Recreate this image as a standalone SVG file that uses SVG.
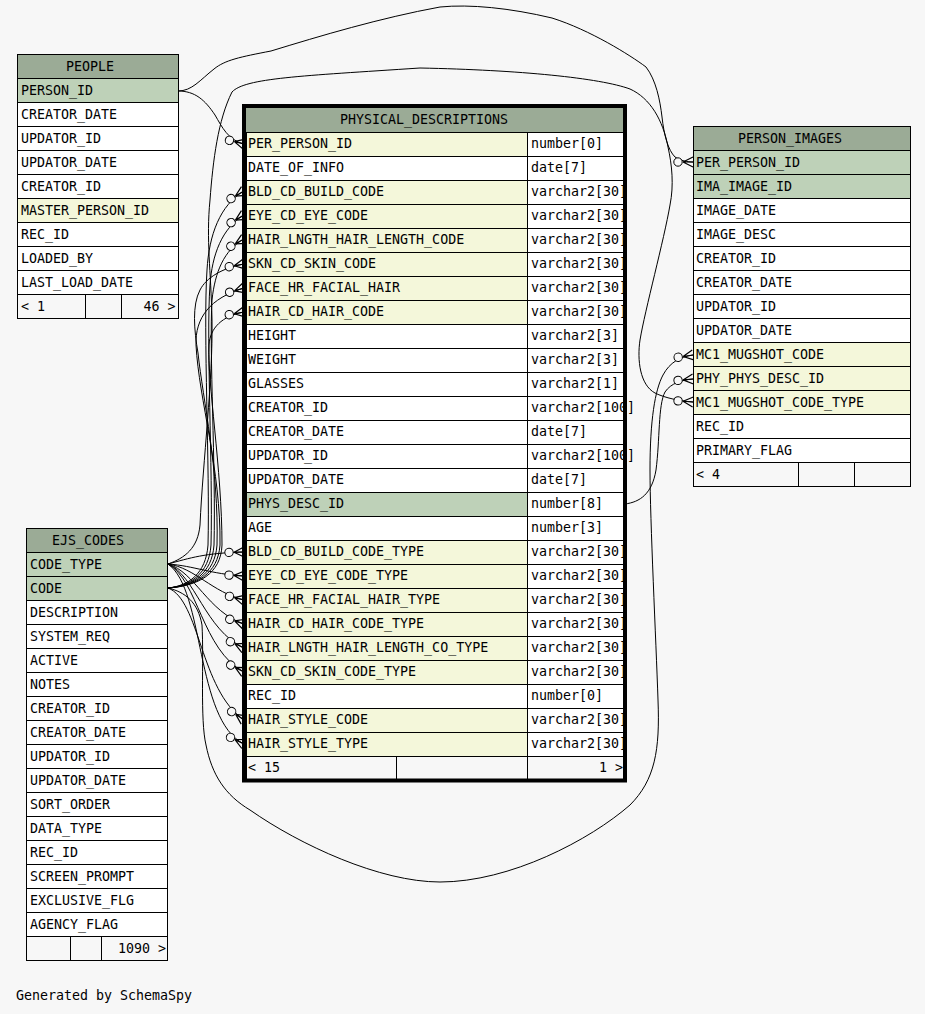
<svg xmlns="http://www.w3.org/2000/svg" width="925" height="1014" viewBox="0 0 925 1014">
<defs>
<style>
.bg{fill:#f7f7f7}
.c{stroke:#000;stroke-width:1}
.hd{fill:#9bab96}
.pk{fill:#bed1b8}
.fk{fill:#f4f7da}
.rw{fill:#ffffff}
.ft{fill:#f7f7f7}
text{font-family:"DejaVu Sans Mono","Liberation Mono",monospace;font-size:13.3px;fill:#000}
.e{text-anchor:end}
.edge path{fill:none;stroke:#000;stroke-width:1;marker-end:url(#crow)}
</style>
<marker id="crow" markerUnits="userSpaceOnUse" markerWidth="24" markerHeight="14" viewBox="0 0 24 14" refX="20" refY="7" orient="auto" overflow="visible">
<path d="M10,7 L20,2 M10,7 L20,7 M10,7 L20,12" fill="none" stroke="#000" stroke-width="1.2"/>
<circle cx="5" cy="7" r="4.2" fill="#f7f7f7" stroke="#000" stroke-width="1"/>
</marker>
</defs>
<rect class="bg" x="0" y="0" width="925" height="1014"/>

<g id="PEOPLE">
<rect class="hd c" x="17.5" y="54.5" width="161" height="24"/>
<rect class="pk c" x="17.5" y="78.5" width="161" height="24"/>
<rect class="rw c" x="17.5" y="102.5" width="161" height="24"/>
<rect class="rw c" x="17.5" y="126.5" width="161" height="24"/>
<rect class="rw c" x="17.5" y="150.5" width="161" height="24"/>
<rect class="rw c" x="17.5" y="174.5" width="161" height="24"/>
<rect class="fk c" x="17.5" y="198.5" width="161" height="24"/>
<rect class="rw c" x="17.5" y="222.5" width="161" height="24"/>
<rect class="rw c" x="17.5" y="246.5" width="161" height="24"/>
<rect class="rw c" x="17.5" y="270.5" width="161" height="24"/>
<rect class="ft c" x="17.5" y="294.5" width="68" height="24"/>
<rect class="ft c" x="85.5" y="294.5" width="36" height="24"/>
<rect class="ft c" x="121.5" y="294.5" width="57" height="24"/>
<text x="66" y="71">PEOPLE</text>
<text x="21" y="95">PERSON_ID</text>
<text x="21" y="119">CREATOR_DATE</text>
<text x="21" y="143">UPDATOR_ID</text>
<text x="21" y="167">UPDATOR_DATE</text>
<text x="21" y="191">CREATOR_ID</text>
<text x="21" y="215">MASTER_PERSON_ID</text>
<text x="21" y="239">REC_ID</text>
<text x="21" y="263">LOADED_BY</text>
<text x="21" y="287">LAST_LOAD_DATE</text>
<text x="21" y="311">&lt; 1</text>
<text class="e" x="175.5" y="311">46 &gt;</text>
</g>

<g id="EJS_CODES">
<rect class="hd c" x="26.5" y="528.5" width="141" height="24"/>
<rect class="pk c" x="26.5" y="552.5" width="141" height="24"/>
<rect class="pk c" x="26.5" y="576.5" width="141" height="24"/>
<rect class="rw c" x="26.5" y="600.5" width="141" height="24"/>
<rect class="rw c" x="26.5" y="624.5" width="141" height="24"/>
<rect class="rw c" x="26.5" y="648.5" width="141" height="24"/>
<rect class="rw c" x="26.5" y="672.5" width="141" height="24"/>
<rect class="rw c" x="26.5" y="696.5" width="141" height="24"/>
<rect class="rw c" x="26.5" y="720.5" width="141" height="24"/>
<rect class="rw c" x="26.5" y="744.5" width="141" height="24"/>
<rect class="rw c" x="26.5" y="768.5" width="141" height="24"/>
<rect class="rw c" x="26.5" y="792.5" width="141" height="24"/>
<rect class="rw c" x="26.5" y="816.5" width="141" height="24"/>
<rect class="rw c" x="26.5" y="840.5" width="141" height="24"/>
<rect class="rw c" x="26.5" y="864.5" width="141" height="24"/>
<rect class="rw c" x="26.5" y="888.5" width="141" height="24"/>
<rect class="rw c" x="26.5" y="912.5" width="141" height="24"/>
<rect class="ft c" x="26.5" y="936.5" width="44" height="24"/>
<rect class="ft c" x="70.5" y="936.5" width="31" height="24"/>
<rect class="ft c" x="101.5" y="936.5" width="66" height="24"/>
<text x="52" y="545">EJS_CODES</text>
<text x="30" y="569">CODE_TYPE</text>
<text x="30" y="593">CODE</text>
<text x="30" y="617">DESCRIPTION</text>
<text x="30" y="641">SYSTEM_REQ</text>
<text x="30" y="665">ACTIVE</text>
<text x="30" y="689">NOTES</text>
<text x="30" y="713">CREATOR_ID</text>
<text x="30" y="737">CREATOR_DATE</text>
<text x="30" y="761">UPDATOR_ID</text>
<text x="30" y="785">UPDATOR_DATE</text>
<text x="30" y="809">SORT_ORDER</text>
<text x="30" y="833">DATA_TYPE</text>
<text x="30" y="857">REC_ID</text>
<text x="30" y="881">SCREEN_PROMPT</text>
<text x="30" y="905">EXCLUSIVE_FLG</text>
<text x="30" y="929">AGENCY_FLAG</text>
<text class="e" x="166" y="953">1090 &gt;</text>
</g>

<g id="PERSON_IMAGES">
<rect class="hd c" x="693.5" y="126.5" width="217" height="24"/>
<rect class="pk c" x="693.5" y="150.5" width="217" height="24"/>
<rect class="pk c" x="693.5" y="174.5" width="217" height="24"/>
<rect class="rw c" x="693.5" y="198.5" width="217" height="24"/>
<rect class="rw c" x="693.5" y="222.5" width="217" height="24"/>
<rect class="rw c" x="693.5" y="246.5" width="217" height="24"/>
<rect class="rw c" x="693.5" y="270.5" width="217" height="24"/>
<rect class="rw c" x="693.5" y="294.5" width="217" height="24"/>
<rect class="rw c" x="693.5" y="318.5" width="217" height="24"/>
<rect class="fk c" x="693.5" y="342.5" width="217" height="24"/>
<rect class="fk c" x="693.5" y="366.5" width="217" height="24"/>
<rect class="fk c" x="693.5" y="390.5" width="217" height="24"/>
<rect class="rw c" x="693.5" y="414.5" width="217" height="24"/>
<rect class="rw c" x="693.5" y="438.5" width="217" height="24"/>
<rect class="ft c" x="693.5" y="462.5" width="105" height="24"/>
<rect class="ft c" x="798.5" y="462.5" width="56" height="24"/>
<rect class="ft c" x="854.5" y="462.5" width="56" height="24"/>
<text x="738" y="143">PERSON_IMAGES</text>
<text x="696" y="167">PER_PERSON_ID</text>
<text x="696" y="191">IMA_IMAGE_ID</text>
<text x="696" y="215">IMAGE_DATE</text>
<text x="696" y="239">IMAGE_DESC</text>
<text x="696" y="263">CREATOR_ID</text>
<text x="696" y="287">CREATOR_DATE</text>
<text x="696" y="311">UPDATOR_ID</text>
<text x="696" y="335">UPDATOR_DATE</text>
<text x="696" y="359">MC1_MUGSHOT_CODE</text>
<text x="696" y="383">PHY_PHYS_DESC_ID</text>
<text x="696" y="407">MC1_MUGSHOT_CODE_TYPE</text>
<text x="696" y="431">REC_ID</text>
<text x="696" y="455">PRIMARY_FLAG</text>
<text x="696" y="479">&lt; 4</text>
</g>

<g id="PHYSICAL_DESCRIPTIONS">
<rect class="hd" x="246" y="108" width="377" height="24"/>
<g class="c">
<rect class="fk" x="246.5" y="132.5" width="281" height="24"/><rect class="rw" x="527.5" y="132.5" width="96" height="24"/>
<rect class="rw" x="246.5" y="156.5" width="281" height="24"/><rect class="rw" x="527.5" y="156.5" width="96" height="24"/>
<rect class="fk" x="246.5" y="180.5" width="281" height="24"/><rect class="rw" x="527.5" y="180.5" width="96" height="24"/>
<rect class="fk" x="246.5" y="204.5" width="281" height="24"/><rect class="rw" x="527.5" y="204.5" width="96" height="24"/>
<rect class="fk" x="246.5" y="228.5" width="281" height="24"/><rect class="rw" x="527.5" y="228.5" width="96" height="24"/>
<rect class="fk" x="246.5" y="252.5" width="281" height="24"/><rect class="rw" x="527.5" y="252.5" width="96" height="24"/>
<rect class="fk" x="246.5" y="276.5" width="281" height="24"/><rect class="rw" x="527.5" y="276.5" width="96" height="24"/>
<rect class="fk" x="246.5" y="300.5" width="281" height="24"/><rect class="rw" x="527.5" y="300.5" width="96" height="24"/>
<rect class="rw" x="246.5" y="324.5" width="281" height="24"/><rect class="rw" x="527.5" y="324.5" width="96" height="24"/>
<rect class="rw" x="246.5" y="348.5" width="281" height="24"/><rect class="rw" x="527.5" y="348.5" width="96" height="24"/>
<rect class="rw" x="246.5" y="372.5" width="281" height="24"/><rect class="rw" x="527.5" y="372.5" width="96" height="24"/>
<rect class="rw" x="246.5" y="396.5" width="281" height="24"/><rect class="rw" x="527.5" y="396.5" width="96" height="24"/>
<rect class="rw" x="246.5" y="420.5" width="281" height="24"/><rect class="rw" x="527.5" y="420.5" width="96" height="24"/>
<rect class="rw" x="246.5" y="444.5" width="281" height="24"/><rect class="rw" x="527.5" y="444.5" width="96" height="24"/>
<rect class="rw" x="246.5" y="468.5" width="281" height="24"/><rect class="rw" x="527.5" y="468.5" width="96" height="24"/>
<rect class="pk" x="246.5" y="492.5" width="281" height="24"/><rect class="rw" x="527.5" y="492.5" width="96" height="24"/>
<rect class="rw" x="246.5" y="516.5" width="281" height="24"/><rect class="rw" x="527.5" y="516.5" width="96" height="24"/>
<rect class="fk" x="246.5" y="540.5" width="281" height="24"/><rect class="rw" x="527.5" y="540.5" width="96" height="24"/>
<rect class="fk" x="246.5" y="564.5" width="281" height="24"/><rect class="rw" x="527.5" y="564.5" width="96" height="24"/>
<rect class="fk" x="246.5" y="588.5" width="281" height="24"/><rect class="rw" x="527.5" y="588.5" width="96" height="24"/>
<rect class="fk" x="246.5" y="612.5" width="281" height="24"/><rect class="rw" x="527.5" y="612.5" width="96" height="24"/>
<rect class="fk" x="246.5" y="636.5" width="281" height="24"/><rect class="rw" x="527.5" y="636.5" width="96" height="24"/>
<rect class="fk" x="246.5" y="660.5" width="281" height="24"/><rect class="rw" x="527.5" y="660.5" width="96" height="24"/>
<rect class="rw" x="246.5" y="684.5" width="281" height="24"/><rect class="rw" x="527.5" y="684.5" width="96" height="24"/>
<rect class="fk" x="246.5" y="708.5" width="281" height="24"/><rect class="rw" x="527.5" y="708.5" width="96" height="24"/>
<rect class="fk" x="246.5" y="732.5" width="281" height="24"/><rect class="rw" x="527.5" y="732.5" width="96" height="24"/>
<rect class="ft" x="246.5" y="756.5" width="150" height="24"/><rect class="ft" x="396.5" y="756.5" width="131" height="24"/><rect class="ft" x="527.5" y="756.5" width="96" height="24"/>
</g>
<text x="340" y="124">PHYSICAL_DESCRIPTIONS</text>
<text x="248" y="148">PER_PERSON_ID</text><text x="531" y="148">number[0]</text>
<text x="248" y="172">DATE_OF_INFO</text><text x="531" y="172">date[7]</text>
<text x="248" y="196">BLD_CD_BUILD_CODE</text><text x="531" y="196">varchar2[30]</text>
<text x="248" y="220">EYE_CD_EYE_CODE</text><text x="531" y="220">varchar2[30]</text>
<text x="248" y="244">HAIR_LNGTH_HAIR_LENGTH_CODE</text><text x="531" y="244">varchar2[30]</text>
<text x="248" y="268">SKN_CD_SKIN_CODE</text><text x="531" y="268">varchar2[30]</text>
<text x="248" y="292">FACE_HR_FACIAL_HAIR</text><text x="531" y="292">varchar2[30]</text>
<text x="248" y="316">HAIR_CD_HAIR_CODE</text><text x="531" y="316">varchar2[30]</text>
<text x="248" y="340">HEIGHT</text><text x="531" y="340">varchar2[3]</text>
<text x="248" y="364">WEIGHT</text><text x="531" y="364">varchar2[3]</text>
<text x="248" y="388">GLASSES</text><text x="531" y="388">varchar2[1]</text>
<text x="248" y="412">CREATOR_ID</text><text x="531" y="412">varchar2[100]</text>
<text x="248" y="436">CREATOR_DATE</text><text x="531" y="436">date[7]</text>
<text x="248" y="460">UPDATOR_ID</text><text x="531" y="460">varchar2[100]</text>
<text x="248" y="484">UPDATOR_DATE</text><text x="531" y="484">date[7]</text>
<text x="248" y="508">PHYS_DESC_ID</text><text x="531" y="508">number[8]</text>
<text x="248" y="532">AGE</text><text x="531" y="532">number[3]</text>
<text x="248" y="556">BLD_CD_BUILD_CODE_TYPE</text><text x="531" y="556">varchar2[30]</text>
<text x="248" y="580">EYE_CD_EYE_CODE_TYPE</text><text x="531" y="580">varchar2[30]</text>
<text x="248" y="604">FACE_HR_FACIAL_HAIR_TYPE</text><text x="531" y="604">varchar2[30]</text>
<text x="248" y="628">HAIR_CD_HAIR_CODE_TYPE</text><text x="531" y="628">varchar2[30]</text>
<text x="248" y="652">HAIR_LNGTH_HAIR_LENGTH_CO_TYPE</text><text x="531" y="652">varchar2[30]</text>
<text x="248" y="676">SKN_CD_SKIN_CODE_TYPE</text><text x="531" y="676">varchar2[30]</text>
<text x="248" y="700">REC_ID</text><text x="531" y="700">number[0]</text>
<text x="248" y="724">HAIR_STYLE_CODE</text><text x="531" y="724">varchar2[30]</text>
<text x="248" y="748">HAIR_STYLE_TYPE</text><text x="531" y="748">varchar2[30]</text>
<text x="248" y="772">&lt; 15</text>
<text class="e" x="623" y="772">1 &gt;</text>
<rect x="244" y="106" width="381" height="674.5" fill="none" stroke="#000" stroke-width="4"/>
</g>

<g id="connectors" class="edge">
<path d="M178,91 C195,91 205,100 215,115 C222,127 228,140 244,144"/>
<path d="M178,91 C192,91 200,80 214,69 C225,60 240,57 271,51 C320,36 380,18 440,7 C470,4 510,8 552,18 C590,30 630,55 646,67 C656,80 660,100 662,117 C664,135 668,150 675,157 C681,161 688,162 693,162"/>
<path d="M168,564 C185,558 198,548 200,525 C203,460 213,380 212,320 C211,270 206,240 210,200 C213,160 218,120 232,92 C245,78 300,76 420,68 C520,70 600,78 630,89 C650,98 663,120 668,147 C672,165 674,185 670,205 C664,240 645,310 640,340 C637,360 640,385 655,393 C665,398 680,401 693,402"/>
<path d="M168,588 C185,592 198,602 202,625 C204,660 200,720 206,745 C212,775 225,795 250,810 C300,845 380,882 440,882 C510,882 590,840 630,805 C655,780 660,750 658,700 C656,640 650,520 650,470 C650,420 655,390 663,375 C670,362 680,357 693,355"/>
<path d="M625,504 C640,502 652,494 656,470 C660,440 658,405 665,392 C671,383 682,380 693,379"/>

<path d="M168,588 C188,586 206,574 208,545 C210,470 203,330 207,270 C209,235 220,205 244,191"/>
<path d="M168,588 C190,586 209,574 211,545 C213,470 206,340 210,285 C212,255 222,228 244,215"/>
<path d="M168,588 C192,586 212,574 214,545 C216,470 209,350 212,300 C215,272 224,250 244,239"/>
<path d="M168,588 C194,586 215,574 217,545 C219,470 203,400 198,353 C194,330 192,305 200,290 C206,278 222,268 244,264"/>
<path d="M168,588 C196,586 218,574 220,545 C221,470 199,400 196,345 C195,318 210,298 244,288"/>
<path d="M168,588 C198,586 221,574 222,545 C222,470 207,380 209,345 C210,328 222,316 244,312"/>

<path d="M168,564 C190,558 205,553 244,552"/>
<path d="M168,564 C195,566 210,574 244,576"/>
<path d="M168,564 C195,568 212,592 244,600"/>
<path d="M168,564 C195,572 208,612 244,624"/>
<path d="M168,564 C195,575 205,630 244,648"/>
<path d="M168,564 C198,580 202,650 244,672"/>
<path d="M168,588 C200,600 200,690 244,720"/>
<path d="M168,564 C205,590 195,720 244,744"/>
</g>

<text x="16" y="1000">Generated by SchemaSpy</text>
</svg>
